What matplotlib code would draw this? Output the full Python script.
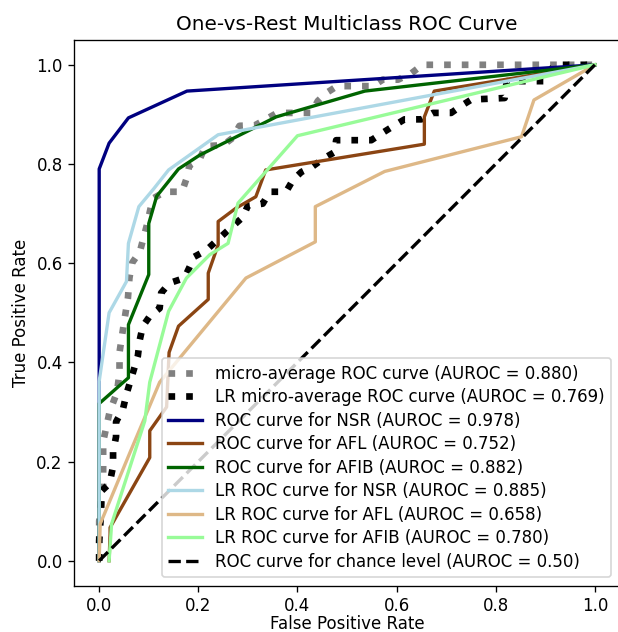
import matplotlib
matplotlib.use("Agg")
import matplotlib.pyplot as plt

# ROC points (fpr, tpr)
micro_fpr = [0.0, 0.0, 0.008, 0.008, 0.021, 0.036, 0.041, 0.041, 0.050, 0.058, 0.061, 0.066,
             0.082, 0.096, 0.108, 0.132, 0.167, 0.176, 0.182, 0.203, 0.214, 0.250, 0.270,
             0.283, 0.314, 0.336, 0.359, 0.428, 0.441, 0.458, 0.480, 0.552, 0.572, 0.603,
             0.630, 0.652, 1.0]
micro_tpr = [0.0, 0.08, 0.15, 0.24, 0.30, 0.34, 0.38, 0.42, 0.48, 0.53, 0.57, 0.60,
             0.623, 0.676, 0.730, 0.744, 0.744, 0.770, 0.797, 0.810, 0.836, 0.838, 0.853,
             0.877, 0.878, 0.890, 0.903, 0.903, 0.927, 0.943, 0.957, 0.957, 0.970, 0.970,
             0.983, 1.0, 1.0]

lr_micro_fpr = [0.0, 0.0, 0.004, 0.004, 0.021, 0.028, 0.028, 0.034, 0.034, 0.048, 0.055,
                0.071, 0.078, 0.082, 0.088, 0.102, 0.122, 0.125, 0.142, 0.172, 0.192,
                0.216, 0.253, 0.290, 0.300, 0.330, 0.344, 0.377, 0.391, 0.408, 0.429,
                0.451, 0.475, 0.478, 0.549, 0.572, 0.596, 0.616, 0.650, 0.673, 0.710,
                0.730, 0.751, 0.818, 0.822, 0.898, 0.918, 1.0]
lr_micro_tpr = [0.0, 0.04, 0.10, 0.14, 0.156, 0.19, 0.22, 0.25, 0.28, 0.306, 0.336,
                0.389, 0.413, 0.446, 0.473, 0.493, 0.509, 0.540, 0.560, 0.570, 0.613,
                0.626, 0.660, 0.693, 0.716, 0.720, 0.744, 0.744, 0.768, 0.784, 0.794,
                0.810, 0.824, 0.848, 0.848, 0.863, 0.878, 0.890, 0.890, 0.903, 0.903,
                0.917, 0.930, 0.933, 0.967, 0.967, 1.0, 1.0]

nsr_fpr = [0.0, 0.0, 0.020, 0.059, 0.177, 1.0]
nsr_tpr = [0.0, 0.79, 0.842, 0.893, 0.947, 1.0]

afl_fpr = [0.020, 0.022, 0.022, 0.102, 0.102, 0.136, 0.141, 0.160, 0.220, 0.220, 0.240,
           0.240, 0.276, 0.316, 0.336, 0.656, 0.656, 0.676, 1.0]
afl_tpr = [0.0, 0.054, 0.067, 0.208, 0.262, 0.31, 0.42, 0.473, 0.527, 0.580, 0.637,
           0.684, 0.711, 0.734, 0.788, 0.840, 0.895, 0.947, 1.0]

afib_fpr = [0.0, 0.0, 0.059, 0.059, 0.100, 0.100, 0.116, 0.160, 0.203, 0.357, 0.536, 1.0]
afib_tpr = [0.0, 0.317, 0.369, 0.476, 0.577, 0.680, 0.735, 0.790, 0.818, 0.895, 0.947, 1.0]

lr_nsr_fpr = [0.0, 0.0, 0.020, 0.055, 0.059, 0.080, 0.110, 0.140, 0.240, 1.0]
lr_nsr_tpr = [0.0, 0.362, 0.500, 0.563, 0.640, 0.714, 0.750, 0.788, 0.859, 1.0]

lr_afl_fpr = [0.0, 0.002, 0.062, 0.122, 0.296, 0.436, 0.436, 0.576, 0.852, 0.877, 1.0]
lr_afl_tpr = [0.0, 0.074, 0.218, 0.360, 0.570, 0.643, 0.714, 0.785, 0.855, 0.929, 1.0]

lr_afib_fpr = [0.020, 0.025, 0.092, 0.102, 0.140, 0.176, 0.223, 0.260, 0.280, 0.400, 1.0]
lr_afib_tpr = [0.0, 0.074, 0.282, 0.360, 0.503, 0.570, 0.617, 0.640, 0.721, 0.857, 1.0]

chance = [0.0, 1.0]

# original looks like it was drawn at 120 dpi
fig = plt.figure(figsize=(618 / 120, 632 / 120), dpi=120)
ax = fig.add_axes([0.1204, 0.0735, 0.8823, 0.8632])

ax.plot(micro_fpr, micro_tpr, color="gray", linestyle=":", linewidth=4,
        label="micro-average ROC curve (AUROC = 0.880)")
ax.plot(lr_micro_fpr, lr_micro_tpr, color="black", linestyle=":", linewidth=4,
        label="LR micro-average ROC curve (AUROC = 0.769)")
ax.plot(nsr_fpr, nsr_tpr, color="navy", lw=2, label="ROC curve for NSR (AUROC = 0.978)")
ax.plot(afl_fpr, afl_tpr, color="saddlebrown", lw=2, label="ROC curve for AFL (AUROC = 0.752)")
ax.plot(afib_fpr, afib_tpr, color="darkgreen", lw=2, label="ROC curve for AFIB (AUROC = 0.882)")
ax.plot(lr_nsr_fpr, lr_nsr_tpr, color="lightblue", lw=2, label="LR ROC curve for NSR (AUROC = 0.885)")
ax.plot(lr_afl_fpr, lr_afl_tpr, color="burlywood", lw=2, label="LR ROC curve for AFL (AUROC = 0.658)")
ax.plot(lr_afib_fpr, lr_afib_tpr, color="palegreen", lw=2, label="LR ROC curve for AFIB (AUROC = 0.780)")
ax.plot(chance, chance, "k--", lw=2, label="ROC curve for chance level (AUROC = 0.50)")

ax.set_xlabel("False Positive Rate", labelpad=0)
ax.set_ylabel("True Positive Rate")
ax.set_title("One-vs-Rest Multiclass ROC Curve")
ax.legend(loc="lower right", labelspacing=0.33)

fig.savefig("out.png", dpi=120)
